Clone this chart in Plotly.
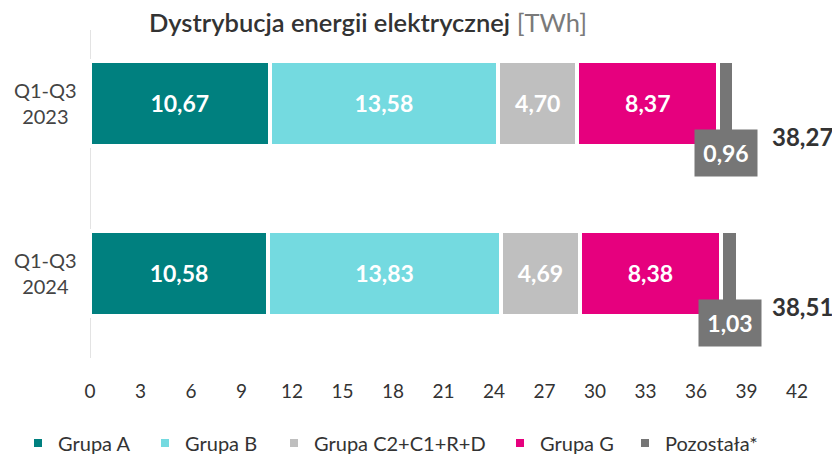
import plotly.graph_objects as go

categories = ["Q1-Q3<br>2023", "Q1-Q3<br>2024"]
series_names = ["Grupa A", "Grupa B", "Grupa C2+C1+R+D", "Grupa G", "Pozostała*"]
grupa_a = [10.67, 10.58]
grupa_b = [13.58, 13.83]
grupa_c = [4.70, 4.69]
grupa_g = [8.37, 8.38]
pozostala = [0.96, 1.03]
totals = [38.27, 38.51]
x_ticks = list(range(0, 43, 3))

colors = ["#00807F", "#74DAE0", "#BFBFBF", "#E6007E", "#767676"]
series = [grupa_a, grupa_b, grupa_c, grupa_g, pozostala]

FONT = "Lato"
ycat = [0, 1]

# figure geometry (page has an 8px body margin)
W, H = 832, 448
L, R, T, B = 82, 43, 10, 98
PW, PH = W - L - R, H - T - B


def px(page_x):
    return (page_x - 8 - L) / PW


def py(page_y):
    return 1 - (page_y - 8 - T) / PH


legend_names = ["legend", "legend2", "legend3", "legend4", "legend5"]
legend_left = [18, 145, 274, 500, 625]

fig = go.Figure()
for i, (name, vals, col) in enumerate(zip(series_names, series, colors)):
    fig.add_trace(go.Bar(
        name=name, y=ycat, x=vals, orientation="h",
        marker=dict(color=col, line=dict(color="white", width=4)),
        width=0.5,
        text=None if i == 4 else vals,
        texttemplate=None if i == 4 else "%{x:.2f}",
        textposition="inside", insidetextanchor="middle",
        textfont=dict(color="white", size=23, family=FONT, weight="bold"),
        hoverinfo="skip",
        legend=legend_names[i],
    ))

annotations = []
# category labels
for yv, cat in zip(ycat, categories):
    annotations.append(dict(
        x=px(45), xref="paper", xanchor="center", y=yv, yref="y",
        yanchor="middle", text=cat, showarrow=False, align="center",
        font=dict(size=20, color="#444444", family=FONT),
    ))
# Pozostała labels in boxes
for yv, a, b, c, g, p in zip(ycat, grupa_a, grupa_b, grupa_c, grupa_g, pozostala):
    cx = a + b + c + g + p / 2
    annotations.append(dict(
        x=cx, xref="x", y=yv, yref="y", yshift=-50,
        text=f"<b>{p:.2f}</b>".replace(".", ","), showarrow=False,
        bgcolor="#767676", width=58, height=42, borderpad=2,
        font=dict(size=23, color="white", family=FONT),
    ))
# totals
for yv, t in zip(ycat, totals):
    annotations.append(dict(
        x=px(770), xref="paper", xanchor="left", y=yv, yref="y", yshift=-33,
        text=f"<b>{t:.2f}</b>".replace(".", ","), showarrow=False,
        font=dict(size=24, color="#333333", family=FONT),
    ))
# title
annotations.append(dict(
    x=px(368), xref="paper", xanchor="center", y=py(22), yref="paper",
    yanchor="middle",
    text="<span style='font-weight:600'>Dystrybucja energii elektrycznej</span> "
         "<span style='color:#7a7a7a'>[TWh]</span>",
    showarrow=False, font=dict(size=25.5, color="#333333", family=FONT),
))

shapes = [
    dict(type="line", xref="x", yref="paper", x0=0, x1=0,
         y0=0, y1=py(30), line=dict(color="#e3e3e3", width=2), layer="below"),
]

layout_legends = {}
for name, lx in zip(legend_names, legend_left):
    layout_legends[name] = dict(
        orientation="h", x=px(lx), xanchor="left",
        y=py(443), yanchor="middle",
        font=dict(size=20, color="#333333", family=FONT),
        itemwidth=30, bgcolor="rgba(0,0,0,0)",
    )

fig.update_layout(
    width=W, height=H,
    margin=dict(l=L, r=R, t=T, b=B, autoexpand=False),
    barmode="stack", separators=", ",
    plot_bgcolor="white", paper_bgcolor="white",
    font=dict(family=FONT, color="#333333"),
    xaxis=dict(range=[0, 42], tickvals=x_ticks, showgrid=False, zeroline=False,
               showline=False, ticks="", tickfont=dict(size=19, color="#333333"),
               ticklabelstandoff=20, automargin=False),
    yaxis=dict(range=[1.5, -0.5], showticklabels=False, showgrid=False,
               zeroline=False, showline=False, automargin=False),
    annotations=annotations, shapes=shapes,
    showlegend=True,
    **layout_legends,
)

fig.write_html("out.html")
